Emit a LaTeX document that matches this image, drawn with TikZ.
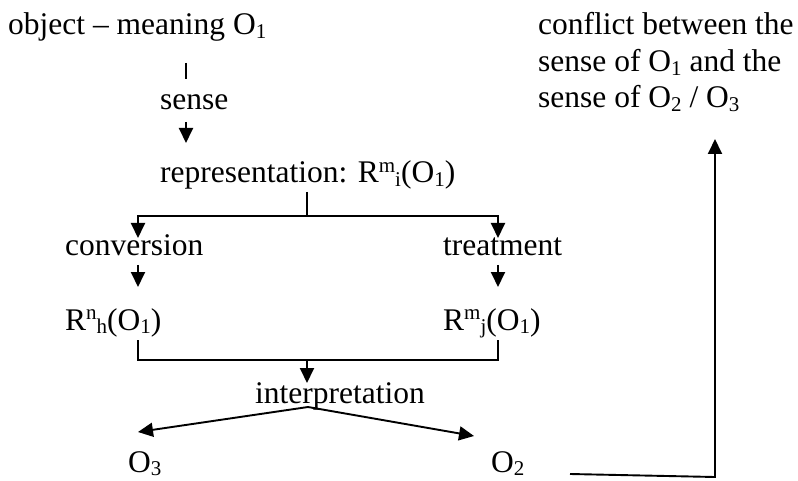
\documentclass[tikz,border=0pt]{standalone}
\usepackage{fontspec}
\setmainfont{Liberation Serif}
\usetikzlibrary{arrows.meta}
\newcommand\mysup[1]{\raisebox{0.33em}{\fontsize{21}{21}\selectfont #1}}
\newcommand\mysub[1]{\raisebox{-0.1em}{\fontsize{21}{21}\selectfont #1}}
\tikzset{
  lbl/.style={inner sep=0pt, anchor=base west, font=\fontsize{31.5}{36.5}\selectfont},
  ln/.style={line width=1.9pt},
  arr/.style={line width=1.9pt, -{Triangle[length=15pt,width=14pt]}}
}
\begin{document}
\begin{tikzpicture}[x=1pt,y=-1pt]
\useasboundingbox (0,0) rectangle (798,481);
% texts
\node[lbl] (obj) at (8,35) {object – meaning O\mysub{1}};
\node[lbl] (sense) at (160,110) {sense};
\node[lbl] (rep) at (160,183) {representation: R\mysup{m}\mysub{i}(O\mysub{1})};
\node[lbl] (conv) at (65,256) {conversion};
\node[lbl] (treat) at (443,256) {treatment};
\node[lbl] (rn) at (65,330) {R\mysup{n}\mysub{h}(O\mysub{1})};
\node[lbl] (rm) at (443,330) {R\mysup{m}\mysub{j}(O\mysub{1})};
\node[lbl] (interp) at (255,403) {interpretation};
\node[lbl] (o3) at (128,472) {O\mysub{3}};
\node[lbl] (o2) at (491,472) {O\mysub{2}};
\node[lbl] (c1) at (538,35) {conflict between the};
\node[lbl] (c2) at (538,72) {sense of O\mysub{1} and the};
\node[lbl] (c3) at (538,108) {sense of O\mysub{2} / O\mysub{3}};
% connector coordinates
\coordinate (objout) at (186,63);
\coordinate (sensein) at (186,79);
\coordinate (senseout) at (186,122);
\coordinate (repin) at (186,143);
\coordinate (repout) at (307,192);
\coordinate (split) at (307,216);
\coordinate (convin) at (138,238);
\coordinate (treatin) at (498,238);
\coordinate (convout) at (138,265);
\coordinate (rnin) at (138,287);
\coordinate (treatout) at (498,265);
\coordinate (rmin) at (498,287);
\coordinate (rnout) at (138,340);
\coordinate (rmout) at (498,340);
\coordinate (merge) at (307,360);
\coordinate (interpin) at (307,383);
\coordinate (interpout) at (308,407);
\coordinate (o3in) at (138,432);
\coordinate (o2in) at (474,436);
\coordinate (o2out) at (570,474);
\coordinate (corner) at (715,477);
\coordinate (conflictin) at (715,139);
% connectors
\draw[ln] (objout) -- (sensein);
\draw[arr] (senseout) -- (repin);
\draw[ln] (repout) -- (split);
\draw[arr] (split) -| (convin);
\draw[arr] (split) -| (treatin);
\draw[arr] (convout) -- (rnin);
\draw[arr] (treatout) -- (rmin);
\draw[ln] (rnout) |- (merge) -| (rmout);
\draw[arr] (merge) -- (interpin);
\draw[arr] (interpout) -- (o3in);
\draw[arr] (interpout) -- (o2in);
\draw[arr] (o2out) -- (corner) -- (conflictin);
\end{tikzpicture}
\end{document}
